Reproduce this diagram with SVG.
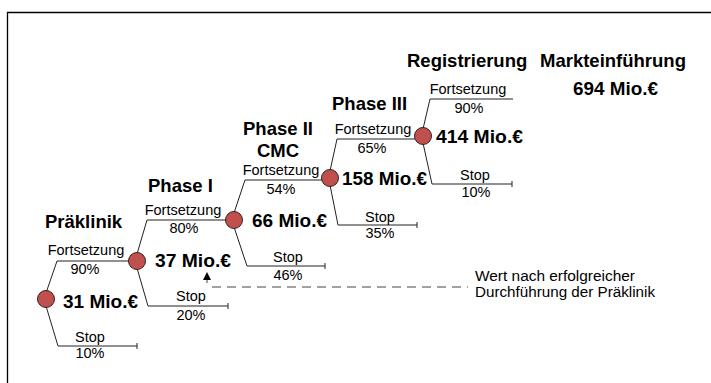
<svg xmlns="http://www.w3.org/2000/svg" width="711" height="383" viewBox="0 0 711 383">
<defs>
<style>
.frame{stroke:#000;stroke-width:1.3;fill:none}
.br{stroke:#222;stroke-width:1;fill:none}
.node{fill:#c0504d;stroke:#3a1f1f;stroke-width:1}
.h{font-family:"Liberation Sans",Arial,sans-serif;font-weight:bold;font-size:18.5px;fill:#000}
.v{font-family:"Liberation Sans",Arial,sans-serif;font-weight:bold;font-size:19px;fill:#000}
.s{font-family:"Liberation Sans",Arial,sans-serif;font-size:14.5px;fill:#000;text-anchor:middle}
.n{font-family:"Liberation Sans",Arial,sans-serif;font-size:14px;fill:#000}
.dash{stroke:#444;stroke-width:1;stroke-dasharray:9 6;fill:none}
</style>
<marker id="ah" markerWidth="8" markerHeight="8" refX="4" refY="4" orient="auto" markerUnits="userSpaceOnUse">
<path d="M0,0 L8,4 L0,8 z" fill="#000"/>
</marker>
</defs>
<rect width="711" height="383" fill="#fff"/>
<path class="frame" d="M7.5,383 V12.5 H711"/>

<g id="connectors">
<path class="br" d="M46,293 L57,261 H129"/>
<path class="br" d="M46,306 L58,346 H137 M137,343 V349"/>
<path class="br" d="M137,254 L147,220 H226"/>
<path class="br" d="M137,268 L148,306 H228 M228,303 V309"/>
<path class="br" d="M234,213 L245,180 H322"/>
<path class="br" d="M234,227 L247,266 H325 M325,263 V269"/>
<path class="br" d="M330,171 L337,139 H415"/>
<path class="br" d="M330,185 L338,225 H417 M417,222 V228"/>
<path class="br" d="M423,129 L430,99 H513"/>
<path class="br" d="M423,143 L432,184 H512 M512,181 V187"/>
<path class="dash" d="M212,287 H468"/>
<path stroke="#444" stroke-width="1" d="M207,283 V276" marker-end="url(#ah)"/>
</g>

<g id="headers">
<text class="h" x="45" y="228">Präklinik</text>
<text class="h" x="148" y="192">Phase I</text>
<text class="h" x="278" y="135" text-anchor="middle">Phase II</text>
<text class="h" x="278" y="157" text-anchor="middle">CMC</text>
<text class="h" x="332" y="110">Phase III</text>
<text class="h" x="407" y="67">Registrierung</text>
<text class="h" x="540" y="67">Markteinführung</text>
</g>

<g id="n0">
<circle class="node" cx="46" cy="299" r="8.5"/>
<text class="v" x="63" y="308" textLength="75" lengthAdjust="spacingAndGlyphs">31 Mio.€</text>
</g>
<g id="n1">
<circle class="node" cx="137" cy="261" r="8.5"/>
<text class="v" x="155" y="267" textLength="76" lengthAdjust="spacingAndGlyphs">37 Mio.€</text>
</g>
<g id="n2">
<circle class="node" cx="234" cy="220" r="8.5"/>
<text class="v" x="252" y="227" textLength="75" lengthAdjust="spacingAndGlyphs">66 Mio.€</text>
</g>
<g id="n3">
<circle class="node" cx="330" cy="178" r="8.5"/>
<text class="v" x="342" y="185" textLength="85" lengthAdjust="spacingAndGlyphs">158 Mio.€</text>
</g>
<g id="n4">
<circle class="node" cx="423" cy="136" r="8.5"/>
<text class="v" x="436" y="143" textLength="87" lengthAdjust="spacingAndGlyphs">414 Mio.€</text>
</g>
<g id="n5">
<text class="v" x="573" y="95" textLength="85" lengthAdjust="spacingAndGlyphs">694 Mio.€</text>
</g>

<g id="labels">
<text class="s" x="86" y="255">Fortsetzung</text>
<text class="s" x="85" y="274">90%</text>
<text class="s" x="90" y="342">Stop</text>
<text class="s" x="90" y="358">10%</text>

<text class="s" x="183" y="215">Fortsetzung</text>
<text class="s" x="184" y="233">80%</text>
<text class="s" x="191" y="301">Stop</text>
<text class="s" x="191" y="320">20%</text>

<text class="s" x="281" y="175">Fortsetzung</text>
<text class="s" x="281" y="194">54%</text>
<text class="s" x="288" y="262">Stop</text>
<text class="s" x="288" y="280">46%</text>

<text class="s" x="373" y="134">Fortsetzung</text>
<text class="s" x="372" y="153">65%</text>
<text class="s" x="380" y="222">Stop</text>
<text class="s" x="380" y="238">35%</text>

<text class="s" x="468" y="94">Fortsetzung</text>
<text class="s" x="469" y="113">90%</text>
<text class="s" x="475" y="180">Stop</text>
<text class="s" x="476" y="197">10%</text>
</g>

<g id="note">
<text class="n" x="475" y="281" textLength="160" lengthAdjust="spacingAndGlyphs">Wert nach erfolgreicher</text>
<text class="n" x="475" y="297" textLength="180" lengthAdjust="spacingAndGlyphs">Durchführung der Präklinik</text>
</g>
</svg>
